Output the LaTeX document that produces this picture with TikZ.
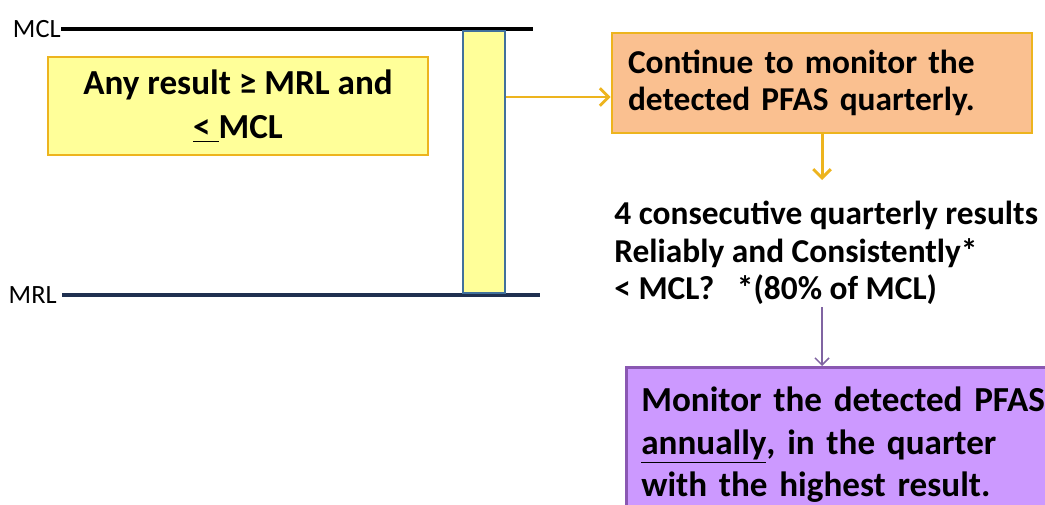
\documentclass[tikz,border=0pt]{standalone}
\usepackage{fontspec}
\setmainfont{Carlito}
\usetikzlibrary{arrows.meta}
\definecolor{limefill}{HTML}{FFFF99}
\definecolor{goldline}{HTML}{EDB41E}
\definecolor{peach}{HTML}{FAC090}
\definecolor{lilac}{HTML}{CC99FF}
\definecolor{plum}{HTML}{8A58B2}
\definecolor{plumarrow}{HTML}{8064A2}
\definecolor{steel}{HTML}{41719C}
\definecolor{navy}{HTML}{1F3050}
\tikzstyle{level}=[line width=2.3pt]
\tikzstyle{levellabel}=[font=\fontsize{15}{17}\selectfont, inner sep=0pt, anchor=east]
\tikzstyle{rangebox}=[draw=goldline, fill=limefill, line width=1.5pt, minimum width=7.6cm, minimum height=1.96cm, align=center, font=\bfseries\fontsize{20}{25.5}\selectfont]
\tikzstyle{quarterbox}=[draw=goldline, fill=peach, line width=1.5pt, minimum width=8.4cm, minimum height=2cm, text width=7.76cm, inner xsep=0.32cm, align=left, font=\bfseries\fontsize{19}{21}\selectfont]
\tikzstyle{annualbox}=[draw=plum, fill=lilac, line width=1.5pt, minimum width=8.7cm, minimum height=3.1cm, text width=8.1cm, inner xsep=0.3cm, align=left, anchor=north west, font=\bfseries\fontsize{20}{24}\selectfont]
\tikzstyle{goldarrow}=[-{Straight Barb[length=5pt,width=10pt]}, goldline, line width=1.7pt]

\begin{document}
\begin{tikzpicture}[x=0.02cm, y=-0.02cm]
\clip (0,0) rectangle (1045,504);
% limits
\node[levellabel] (mcl) at (61,29) {MCL};
\node[levellabel] (mrl) at (57,295) {MRL};
\draw[level, black] (mcl.east) -- (533,29);
\draw[level, navy] (mrl.east) ++(5,0) -- (540,295);
\node[draw=steel, fill=limefill, line width=1.1pt, minimum width=0.84cm, minimum height=5.24cm, inner sep=0pt] (bar) at (484,162) {};
% boxes
\node[rangebox] (range) at (238,106) {Any result ≥ MRL and\\\underline{<\ }MCL};
\node[quarterbox] (cont) at (822,83) {Continue to monitor the\\detected PFAS quarterly.};
\node[anchor=west, inner sep=0pt, align=left, font=\bfseries\fontsize{19}{21.5}\selectfont] (quest) at (614,253) {4 consecutive quarterly results\\Reliably and Consistently*\\< MCL? \ \ *(80\% of MCL)};
\node[annualbox] (annual) at (625,366) {Monitor the detected PFAS\\\underline{annually}, in the quarter\\with the highest result.};
% arrows
\draw[goldarrow] (bar.east |- 0,97) -- (cont.west |- 0,97);
\draw[goldarrow] (cont.south) -- (cont.south |- 0,180);
\draw[-{Straight Barb[length=4pt,width=8pt]}, plumarrow, line width=0.9pt] (cont.south |- 0,307) -- (cont.south |- annual.north);
\end{tikzpicture}
\end{document}
